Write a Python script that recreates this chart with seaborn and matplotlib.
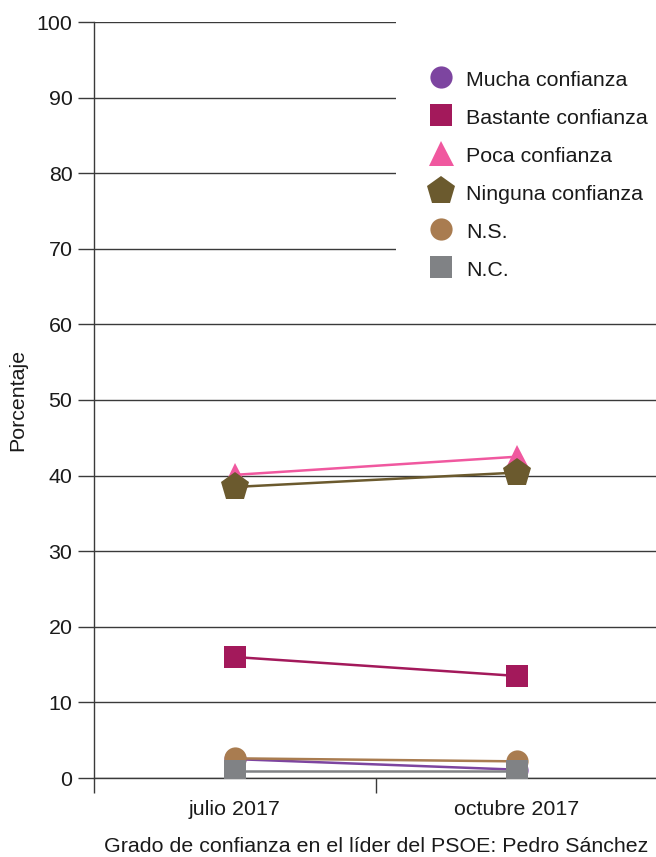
import matplotlib
matplotlib.use("Agg")
import matplotlib.pyplot as plt
from matplotlib.lines import Line2D
from matplotlib.patches import Rectangle
import seaborn as sns
import pandas as pd

periods = ["julio 2017", "octubre 2017"]
series = ["Mucha confianza", "Bastante confianza", "Poca confianza",
          "Ninguna confianza", "N.S.", "N.C."]
mucha = [2.5, 1.1]
bastante = [16.0, 13.5]
poca = [40.1, 42.5]
ninguna = [38.5, 40.4]
ns = [2.6, 2.2]
nc = [0.9, 0.9]
values = [mucha, bastante, poca, ninguna, ns, nc]

colors = ["#7D45A0", "#A3195B", "#F0589F", "#6B5A2E", "#A97C50", "#808285"]
markers = ["o", "s", "^", "p", "o", "s"]
msizes = [16, 16, 18, 21, 16, 16]

rows = []
for s, vals in zip(series, values):
    for p, v in zip(periods, vals):
        rows.append({"serie": s, "periodo": p, "valor": v})
df = pd.DataFrame(rows)

sns.set_theme(style="white")
plt.rcParams["font.family"] = ["Liberation Sans", "DejaVu Sans"]
FS = 15.4

fig = plt.figure(figsize=(6.56, 8.57), dpi=100)
ax = fig.add_axes([94/656, 1-778/857, 564/656, 756/857])

for s, c, m, ms in zip(series, colors, markers, msizes):
    sub = df[df["serie"] == s]
    sns.lineplot(data=sub, x="periodo", y="valor", color=c, marker=m,
                 markersize=ms, markeredgewidth=0, linewidth=1.8,
                 ax=ax, zorder=3, legend=False)

ax.set_xlim(-0.5, 1.5)
ax.set_ylim(0, 100)
ax.set_yticks(range(0, 101, 10))
ax.yaxis.grid(True, color="#3a3a3a", linewidth=1.0)
ax.set_axisbelow(True)
ax.tick_params(axis="y", length=11.5, width=1.0, color="#3a3a3a",
               labelsize=FS, pad=4, left=True, labelcolor="#1a1a1a")
ax.set_xticks([0, 1])
ax.set_xticklabels(periods)
ax.set_xticks([-0.5, 0.5, 1.5], minor=True)
ax.tick_params(axis="x", which="major", length=0, labelsize=FS, pad=15.5,
               labelcolor="#1a1a1a")
ax.tick_params(axis="x", which="minor", length=11, width=1.0,
               color="#3a3a3a", bottom=True)
for side in ["top", "right"]:
    ax.spines[side].set_visible(False)
for side in ["left", "bottom"]:
    ax.spines[side].set_color("#3a3a3a")
    ax.spines[side].set_linewidth(1.0)

ax.set_ylabel("Porcentaje", fontsize=FS, labelpad=7, color="#1a1a1a")
ax.set_xlabel("Grado de confianza en el líder del PSOE: Pedro Sánchez",
              fontsize=FS, labelpad=13, color="#1a1a1a")

ax.add_patch(Rectangle((0.535, 0.63), 0.47, 0.40, transform=ax.transAxes,
                       facecolor="white", edgecolor="none", zorder=2,
                       clip_on=False))

handles = [Line2D([], [], linestyle="none", marker=m, color=c,
                  markersize=ms, markeredgewidth=0)
           for c, m, ms in zip(colors, markers, msizes)]
leg = ax.legend(handles, series, loc="upper left",
                bbox_to_anchor=(0.589, 0.939), frameon=False,
                fontsize=FS, labelspacing=0.74, handleheight=1.2,
                handletextpad=0.47, handlelength=1.4,
                borderpad=0, borderaxespad=0)
leg.set_zorder(4)
for t in leg.get_texts():
    t.set_color("#1a1a1a")

fig.savefig("out.png", dpi=100)
